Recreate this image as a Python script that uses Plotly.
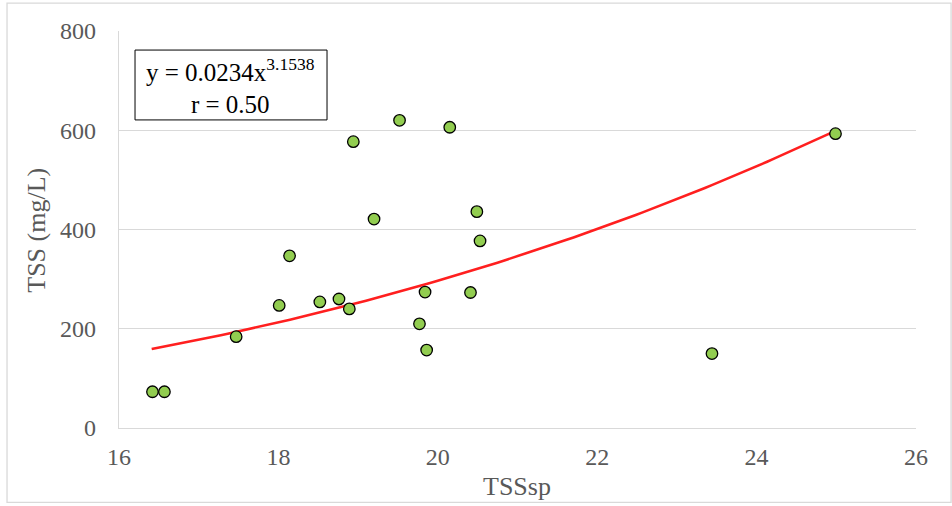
import numpy as np
import plotly.graph_objects as go

# Data
tss_sp = [16.42, 16.57, 17.47, 18.01, 18.14, 18.52, 18.76, 18.89, 18.94, 19.20,
          19.52, 19.77, 19.84, 19.86, 20.15, 20.41, 20.49, 20.53, 23.44, 24.99]
tss = [73, 73, 184, 247, 347, 254, 260, 240, 577, 421,
       620, 210, 274, 157, 606, 273, 436, 377, 150, 593]

# Power trendline shown on the chart: y = 0.0234 x^3.1538
trend_coef = 0.0234
trend_exp = 3.1538
trend_x_start = 16.41
trend_x_end = 25.0

x_ticks = [16, 18, 20, 22, 24, 26]
y_ticks = [0, 200, 400, 600, 800]

x_title = "TSSsp"
y_title = "TSS (mg/L)"
equation_text = "y = 0.0234x<sup>3.1538</sup><br>r = 0.50"

FONT = "Liberation Serif"
GRID = "#d9d9d9"
TICK_COLOR = "#595959"

trend_x = np.linspace(trend_x_start, trend_x_end, 100)
trend_y = trend_coef * trend_x ** trend_exp

fig = go.Figure()
fig.add_trace(go.Scatter(
    x=trend_x, y=trend_y, mode="lines",
    line=dict(color="#ff1f1f", width=2.6),
    hoverinfo="skip", showlegend=False,
))
fig.add_trace(go.Scatter(
    x=tss_sp, y=tss, mode="markers",
    marker=dict(size=11.5, color="#92cd50", line=dict(color="#000000", width=1.3)),
    showlegend=False,
))

fig.update_layout(
    width=952, height=506,
    margin=dict(l=119, r=36, t=31, b=77.5, autoexpand=False),
    paper_bgcolor="white", plot_bgcolor="white",
    font=dict(family=FONT, color=TICK_COLOR),
    xaxis=dict(
        range=[16, 26], tickvals=x_ticks, showgrid=False, automargin=False,
        showline=True, linecolor=GRID, linewidth=1.3, zeroline=False,
        ticks="", tickfont=dict(size=24, color=TICK_COLOR, family=FONT),
        ticklabelstandoff=7,
    ),
    yaxis=dict(
        range=[0, 800], tickvals=y_ticks, showgrid=True, gridcolor=GRID, gridwidth=1.3,
        automargin=False,
        showline=True, linecolor=GRID, linewidth=1.3, zeroline=False,
        ticks="", tickfont=dict(size=24, color=TICK_COLOR, family=FONT),
        ticklabelstandoff=17,
    ),
    shapes=[
        dict(type="rect", xref="paper", yref="paper",
             x0=-0.1405, x1=1.044, y0=-0.1874, y1=1.0704,
             line=dict(color=GRID, width=1.3), fillcolor="rgba(0,0,0,0)", layer="below"),
        dict(type="rect", xref="paper", yref="paper",
             x0=0.0201, x1=0.261, y0=0.776, y1=0.952,
             line=dict(color="#000000", width=1), fillcolor="white", layer="above"),
    ],
    annotations=[
        dict(xref="paper", yref="paper", x=0.1405, y=0.862, xanchor="center", yanchor="middle",
             text=equation_text, showarrow=False, align="center",
             font=dict(size=25, color="#000000", family=FONT)),
        dict(xref="paper", yref="paper", x=0.499, y=-0.147, xanchor="center", yanchor="middle",
             text=x_title, showarrow=False,
             font=dict(size=26, color=TICK_COLOR, family=FONT)),
        dict(xref="paper", yref="paper", x=-0.1029, y=0.4994, xanchor="center", yanchor="middle",
             text=y_title, showarrow=False, textangle=-90,
             font=dict(size=26, color=TICK_COLOR, family=FONT)),
    ],
)

fig.write_html(
    "out.html",
    config={"displayModeBar": False},
    post_script="document.body.style.margin='0';document.body.style.overflow='hidden';",
)
